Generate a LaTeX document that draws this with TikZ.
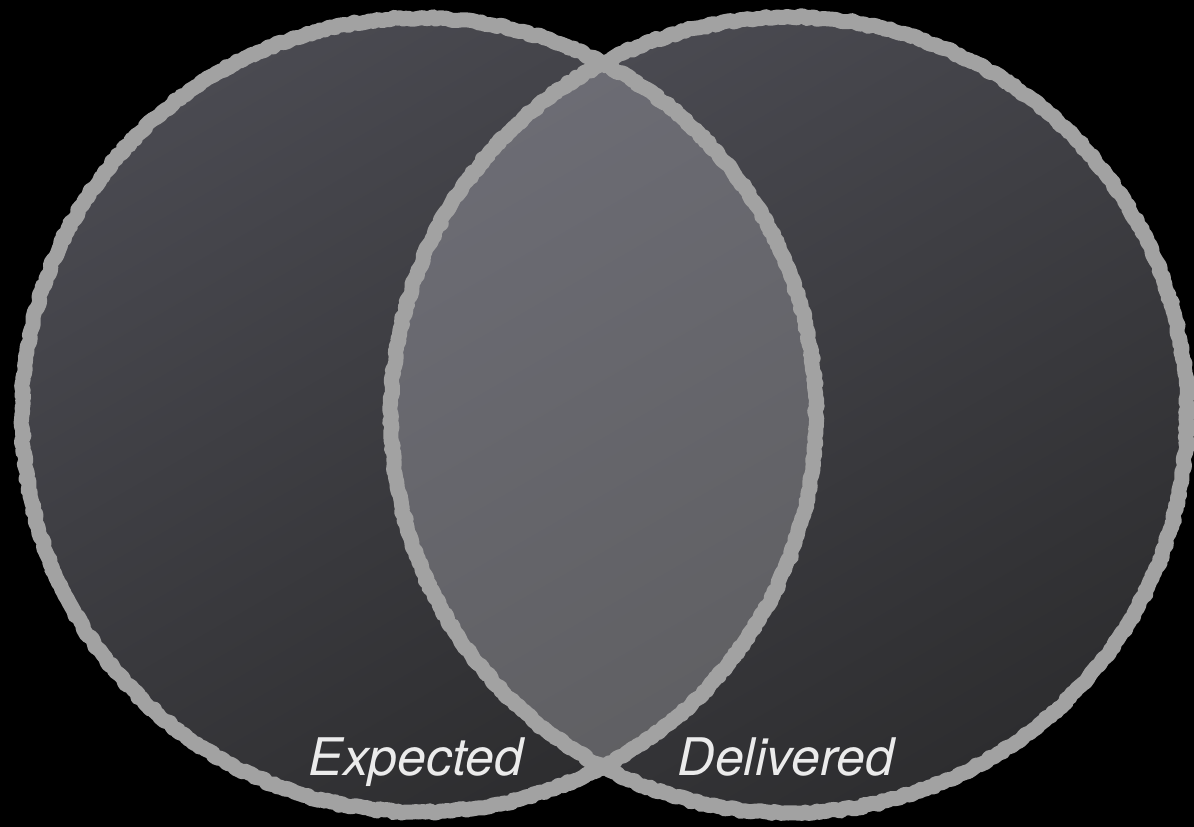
\documentclass[tikz,border=0pt]{standalone}
\usepackage{fontspec}
\setmainfont{TeX Gyre Heros}
\usepackage{tikz}
\usetikzlibrary{decorations.pathmorphing, positioning, calc}
\definecolor{bgblack}{HTML}{000000}
\definecolor{setlight}{HTML}{4A4A51}
\definecolor{setdark}{HTML}{2D2D2F}
\definecolor{lenslight}{HTML}{6C6C74}
\definecolor{lensdark}{HTML}{5C5C5E}
\definecolor{chalk}{HTML}{A2A2A2}

\begin{document}
\begin{tikzpicture}[x=0.02cm, y=-0.02cm,
    setfill/.style={shading=axis, top color=setlight, bottom color=setdark, shading angle=30},
    lensfill/.style={shading=axis, top color=lenslight, bottom color=lensdark, shading angle=30},
    chalkline/.style={draw=chalk, line width=0.3cm, line join=round, line cap=round,
        decorate, decoration={random steps, segment length=2pt, amplitude=0.8pt}},
    setlabel/.style={text=white!92!black, font=\fontsize{29.5}{36}\selectfont\itshape, anchor=base}]
    \useasboundingbox[fill=bgblack] (0,0) rectangle (1194,827);
    \coordinate (expc) at (419,415);
    \coordinate (delc) at (789,415);
    % the two sets
    \fill[setfill] (expc) circle[radius=397];
    \fill[setfill] (delc) circle[radius=398];
    % overlap
    \begin{scope}
        \clip (expc) circle[radius=397];
        \fill[lensfill] (delc) circle[radius=398];
    \end{scope}
    \draw[chalkline] (expc) circle[radius=397];
    \draw[chalkline] (delc) circle[radius=398];
    \node[setlabel] (expected) at (416,775) {Expected};
    \node[setlabel] (delivered) at (786,775) {Delivered};
\end{tikzpicture}
\end{document}
